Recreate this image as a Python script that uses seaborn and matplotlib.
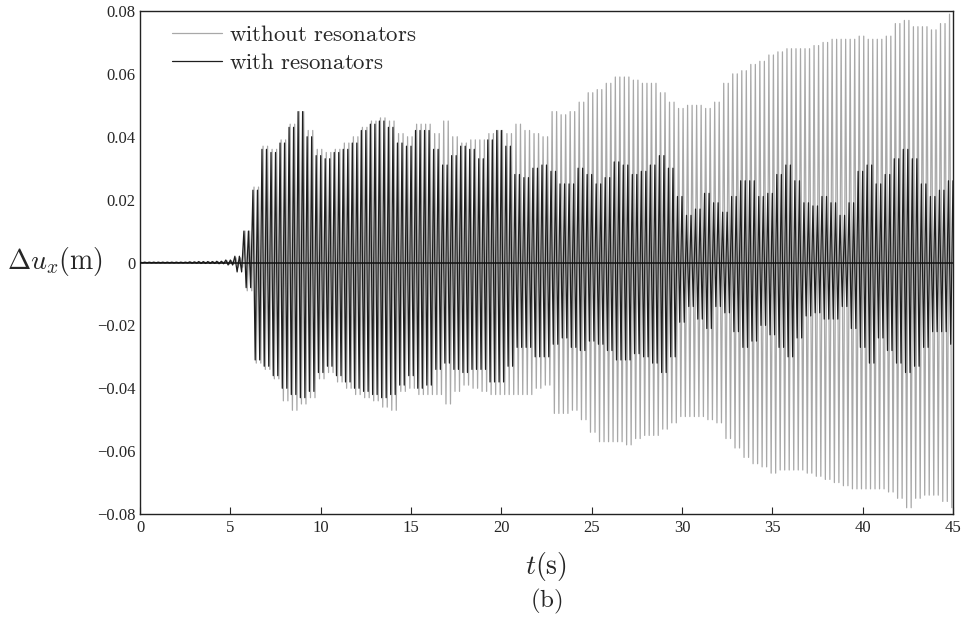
import matplotlib
matplotlib.use("Agg")
import matplotlib.pyplot as plt
import numpy as np
import pandas as pd
import seaborn as sns

# envelope of the oscillation, read every 0.5 s from 0 to 45 s
t_env = np.arange(0, 45.5, 0.5)

with_up = [
    0.0001, 0.0001, 0.0001, 0.0001, 0.0001, 0.0001, 0.0002, 0.0003, 0.0003, 0.0004,
    0.0008, 0.002, 0.010, 0.023, 0.036, 0.035, 0.038, 0.043, 0.048, 0.040,
    0.034, 0.033, 0.035, 0.036, 0.038, 0.042, 0.044, 0.045, 0.043, 0.038,
    0.037, 0.042, 0.042, 0.036, 0.031, 0.034, 0.037, 0.036, 0.033, 0.039,
    0.042, 0.037, 0.028, 0.027, 0.030, 0.031, 0.029, 0.025, 0.025, 0.030,
    0.028, 0.025, 0.027, 0.032, 0.031, 0.028, 0.029, 0.031, 0.034, 0.030,
    0.021, 0.015, 0.017, 0.022, 0.019, 0.016, 0.021, 0.026, 0.026, 0.021,
    0.022, 0.028, 0.031, 0.026, 0.019, 0.018, 0.021, 0.019, 0.015, 0.019,
    0.029, 0.031, 0.025, 0.028, 0.033, 0.036, 0.033, 0.025, 0.021, 0.023,
    0.026,
]
with_lo = [
    -0.0001, -0.0001, -0.0001, -0.0001, -0.0001, -0.0001, -0.0002, -0.0003, -0.0003, -0.0004,
    -0.0008, -0.003, -0.008, -0.031, -0.033, -0.036, -0.040, -0.042, -0.043, -0.041,
    -0.035, -0.033, -0.036, -0.038, -0.040, -0.041, -0.042, -0.043, -0.042, -0.039,
    -0.036, -0.040, -0.039, -0.034, -0.032, -0.034, -0.035, -0.034, -0.034, -0.038,
    -0.038, -0.033, -0.027, -0.027, -0.030, -0.030, -0.026, -0.024, -0.027, -0.028,
    -0.025, -0.026, -0.028, -0.031, -0.031, -0.029, -0.030, -0.032, -0.035, -0.030,
    -0.019, -0.014, -0.018, -0.021, -0.014, -0.016, -0.022, -0.027, -0.025, -0.020,
    -0.023, -0.027, -0.030, -0.024, -0.017, -0.016, -0.018, -0.018, -0.014, -0.021,
    -0.027, -0.032, -0.024, -0.028, -0.032, -0.035, -0.033, -0.027, -0.022, -0.022,
    -0.026,
]
without_up = [
    0.0001, 0.0001, 0.0001, 0.0001, 0.0001, 0.0001, 0.0002, 0.0002, 0.0003, 0.0003,
    0.0006, 0.0015, 0.010, 0.024, 0.037, 0.036, 0.039, 0.044, 0.048, 0.042,
    0.036, 0.035, 0.036, 0.038, 0.040, 0.043, 0.045, 0.046, 0.045, 0.041,
    0.040, 0.044, 0.044, 0.041, 0.045, 0.040, 0.038, 0.039, 0.039, 0.041,
    0.042, 0.041, 0.044, 0.042, 0.041, 0.040, 0.048, 0.047, 0.048, 0.051,
    0.054, 0.055, 0.057, 0.059, 0.059, 0.058, 0.057, 0.057, 0.054, 0.051,
    0.049, 0.050, 0.050, 0.049, 0.051, 0.057, 0.060, 0.061, 0.063, 0.064,
    0.066, 0.067, 0.068, 0.068, 0.068, 0.069, 0.070, 0.071, 0.071, 0.071,
    0.072, 0.071, 0.071, 0.072, 0.076, 0.077, 0.075, 0.075, 0.074, 0.076,
    0.079,
]
without_lo = [
    -0.0001, -0.0001, -0.0001, -0.0001, -0.0001, -0.0001, -0.0002, -0.0002, -0.0003, -0.0003,
    -0.0006, -0.0015, -0.009, -0.032, -0.034, -0.037, -0.044, -0.047, -0.045, -0.043,
    -0.037, -0.035, -0.038, -0.040, -0.042, -0.043, -0.044, -0.046, -0.047, -0.041,
    -0.040, -0.042, -0.042, -0.042, -0.045, -0.041, -0.039, -0.040, -0.041, -0.042,
    -0.042, -0.042, -0.042, -0.042, -0.040, -0.039, -0.048, -0.048, -0.047, -0.050,
    -0.054, -0.057, -0.057, -0.057, -0.058, -0.056, -0.055, -0.055, -0.053, -0.051,
    -0.049, -0.049, -0.049, -0.050, -0.051, -0.056, -0.059, -0.062, -0.064, -0.065,
    -0.067, -0.066, -0.066, -0.066, -0.067, -0.068, -0.069, -0.070, -0.071, -0.072,
    -0.072, -0.072, -0.072, -0.073, -0.075, -0.078, -0.075, -0.074, -0.074, -0.076,
    -0.078,
]

period = 0.25  # about 4 Hz oscillation

x_ticks = [0, 5, 10, 15, 20, 25, 30, 35, 40, 45]
y_ticks = [0.08, 0.06, 0.04, 0.02, 0, -0.02, -0.04, -0.06, -0.08]
y_tick_labels = ["0.08", "0.06", "0.04", "0.02", "0",
                 "\u22120.02", "\u22120.04", "\u22120.06", "\u22120.08"]

case_without = r"$\mathrm{without\ resonators}$"
case_with = r"$\mathrm{with\ resonators}$"


def peaks(env_up, env_lo, phase):
    ts, vs = [], []
    for k in range(len(t_env)):
        start = t_env[k] - 0.25 + phase
        for c in range(2):
            ts += [start + c * period, start + c * period + period / 2]
            vs += [env_up[k], env_lo[k]]
    ts = np.array(ts)
    vs = np.array(vs)
    keep = (ts >= 0) & (ts <= 45)
    return ts[keep], vs[keep]


t1, v1 = peaks(without_up, without_lo, 0.06)
t2, v2 = peaks(with_up, with_lo, 0.0)
df = pd.concat([
    pd.DataFrame({"t": t1, "du": v1, "case": case_without}),
    pd.DataFrame({"t": t2, "du": v2, "case": case_with}),
], ignore_index=True)

sns.set_style("white")
plt.rcParams["mathtext.fontset"] = "cm"
plt.rcParams["font.family"] = ["Liberation Serif", "DejaVu Serif"]

fig = plt.figure(figsize=(9.67, 6.28), dpi=100)
ax = fig.add_axes([0.1448, 0.1815, 0.8407, 0.801])

sns.lineplot(data=df, x="t", y="du", hue="case",
             hue_order=[case_without, case_with],
             palette={case_without: "#a8a8a8", case_with: "#1e1e1e"},
             estimator=None, sort=False, linewidth=0.9, ax=ax)
ax.axhline(0, color="#111111", linewidth=1.1, zorder=5)

ax.set_xlim(0, 45)
ax.set_ylim(-0.08, 0.08)
ax.set_xticks(x_ticks)
ax.set_xticklabels([str(v) for v in x_ticks])
ax.set_yticks(y_ticks)
ax.set_yticklabels(y_tick_labels)
ax.tick_params(axis="x", direction="in", length=5, width=0.8,
               labelsize=12, pad=4, bottom=True)
ax.tick_params(axis="y", length=0, labelsize=12, pad=3, left=True)
for s in ax.spines.values():
    s.set_color("#222222")
    s.set_linewidth(1.0)

ax.set_xlabel("")
ax.set_ylabel("")
fig.text(0.057, 0.583, r"$\Delta u_x(\mathrm{m})$", fontsize=20,
         ha="center", va="center")
fig.text(0.565, 0.098, r"$t(\mathrm{s})$", fontsize=20, ha="center", va="center")
fig.text(0.565, 0.043, r"$(\mathrm{b})$", fontsize=18, ha="center", va="center")

ax.legend(loc="upper left", bbox_to_anchor=(0.039, 0.972), frameon=False,
          fontsize=16.5, handlelength=2.2, handletextpad=0.3, labelspacing=0.3,
          borderpad=0, borderaxespad=0)

fig.savefig("out.png", dpi=100)
